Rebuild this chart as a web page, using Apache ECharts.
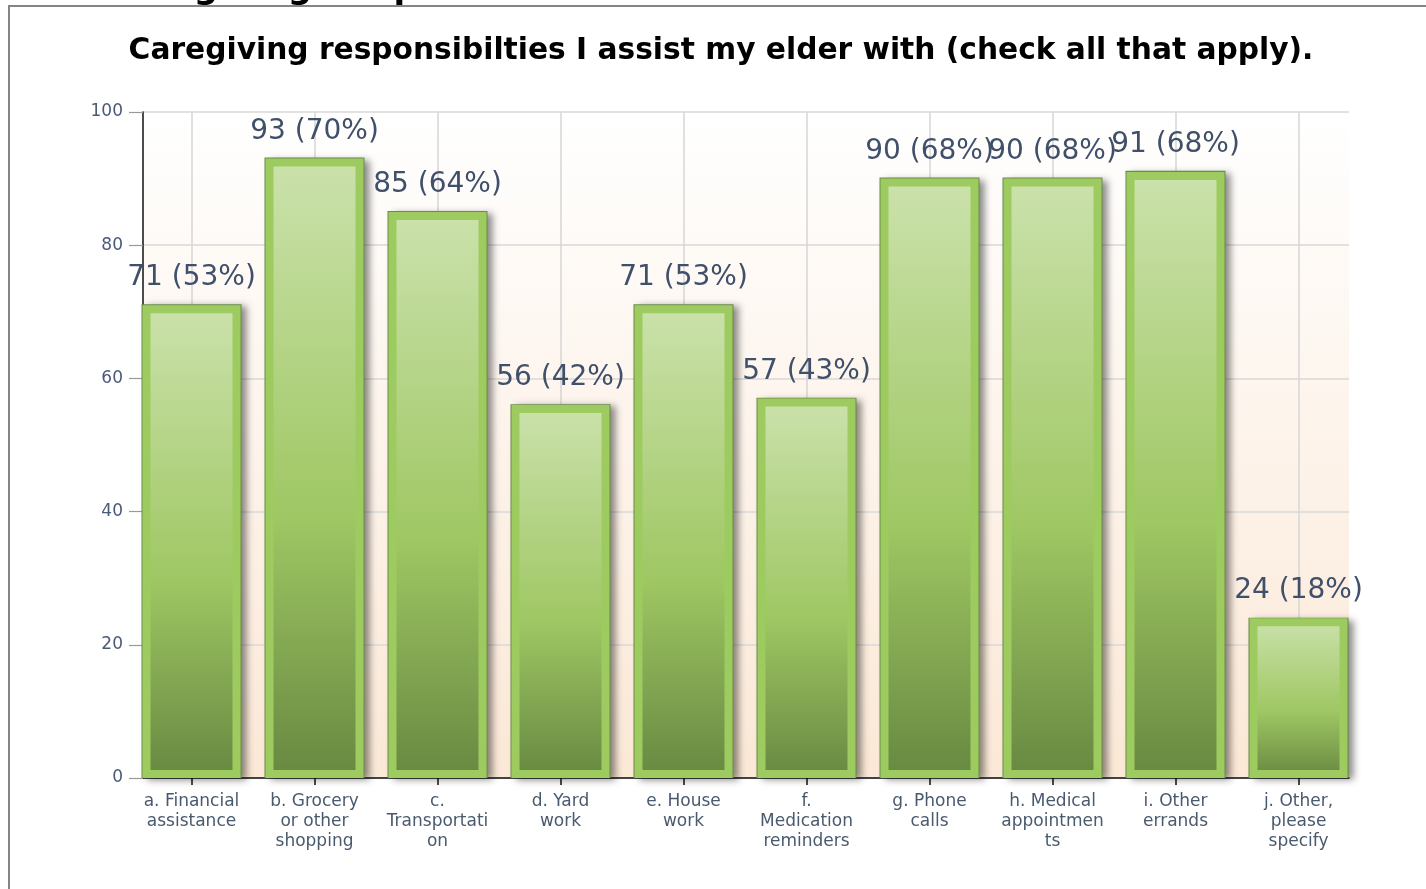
<!DOCTYPE html>
<html>
<head>
<meta charset="utf-8">
<script src="https://cdn.jsdelivr.net/npm/echarts@6/dist/echarts.min.js"></script>
<style>
html,body{margin:0;padding:0;background:#fff;}
#chart{width:1426px;height:889px;}
</style>
</head>
<body>
<div id="chart"></div>
<script>
const titleText = 'Caregiving responsibilties I assist my elder with (check all that apply).';
const headingText = 'Caregiving Responsibilities';
const categories = ['a. Financial\nassistance', 'b. Grocery\nor other\nshopping', 'c.\nTransportati\non', 'd. Yard\nwork', 'e. House\nwork', 'f.\nMedication\nreminders', 'g. Phone\ncalls', 'h. Medical\nappointmen\nts', 'i. Other\nerrands', 'j. Other,\nplease\nspecify'];
const counts = [71, 93, 85, 56, 71, 57, 90, 90, 91, 24];
const percents = [53, 70, 64, 42, 53, 43, 68, 68, 68, 18];
const yMin = 0, yMax = 100, yInterval = 20;

const FONT = '"DejaVu Sans", Verdana, sans-serif';
const chart = echarts.init(document.getElementById('chart'), null, {renderer: 'canvas'});

const option = {
  animation: false,
  backgroundColor: '#ffffff',
  graphic: [
    {type: 'rect', z: 100, silent: true, shape: {x: 9, y: 6, width: 1440, height: 900},
      style: {fill: 'none', stroke: '#858585', lineWidth: 2}},
    {type: 'text', z: 99, silent: true,
      style: {text: headingText, x: 106, y: 6, textAlign: 'left', textVerticalAlign: 'bottom',
        fontSize: 34, fontWeight: 'bold', fontFamily: FONT, fill: '#000'}},
    {type: 'text', z: 100, silent: true,
      style: {text: titleText, x: 721, y: 51, textAlign: 'center', textVerticalAlign: 'middle',
        fontSize: 29.7, fontWeight: 'bold', fontFamily: FONT, fill: '#000'}}
  ],
  grid: [
    {left: 143, right: 77, top: 112, bottom: 111, show: true, borderWidth: 0,
      backgroundColor: new echarts.graphic.LinearGradient(0, 0, 0, 1, [
        {offset: 0, color: '#ffffff'},
        {offset: 1, color: '#fbe8d6'}
      ])},
    {left: 191.5, right: 127.5, top: 112, bottom: 111},
    {left: 191.5, right: 127.5, top: 110.8, bottom: 111}
  ],
  xAxis: [
    {gridIndex: 0, type: 'value', min: 0, max: 1,
      axisLine: {show: true, onZero: false, lineStyle: {color: '#111', width: 1.5}},
      axisTick: {show: false}, axisLabel: {show: false}, splitLine: {show: false}},
    {gridIndex: 1, type: 'category', data: categories, boundaryGap: false,
      axisLine: {show: false},
      axisTick: {show: true, length: 7, lineStyle: {color: '#111', width: 1.5}},
      axisLabel: {interval: 0, margin: 14, fontFamily: FONT, fontSize: 17, lineHeight: 20, color: '#4a5a6e'},
      splitLine: {show: true, lineStyle: {color: '#d6d6d6', width: 1.5}}},
    {gridIndex: 2, type: 'category', data: categories, boundaryGap: false, show: false}
  ],
  yAxis: [
    {gridIndex: 0, type: 'value', min: yMin, max: yMax, interval: yInterval,
      axisLine: {show: true, lineStyle: {color: '#111', width: 1.5}},
      axisTick: {show: true, length: 14, lineStyle: {color: '#9a9a9a', width: 1.2}},
      axisLabel: {margin: 20, fontFamily: FONT, fontSize: 17, color: '#4b5a78'},
      splitLine: {show: true, lineStyle: {color: '#d9d9d9', width: 1.5}}},
    {gridIndex: 1, type: 'value', min: yMin, max: yMax, show: false},
    {gridIndex: 2, type: 'value', min: yMin, max: yMax, show: false}
  ],
  series: [
    {
      // dark rim + drop shadow behind each bar
      type: 'bar', xAxisIndex: 2, yAxisIndex: 2, z: 2,
      data: counts, barWidth: 100, clip: false, silent: true,
      itemStyle: {
        color: '#6b8c48',
        shadowColor: 'rgba(0,0,0,0.45)', shadowBlur: 7, shadowOffsetX: 5, shadowOffsetY: 2
      }
    },
    {
      type: 'bar', xAxisIndex: 1, yAxisIndex: 1, z: 3,
      data: counts, barWidth: 98, clip: false,
      itemStyle: {
        color: new echarts.graphic.LinearGradient(0, 0, 0, 1, [
          {offset: 0, color: '#cbe2ac'},
          {offset: 0.58, color: '#9fc763'},
          {offset: 1, color: '#678841'}
        ]),
        borderColor: '#9dcb60',
        borderWidth: 8
      },
      label: {
        show: true, position: 'top', distance: 13,
        formatter: p => counts[p.dataIndex] + ' (' + percents[p.dataIndex] + '%)',
        fontFamily: FONT, fontSize: 28, color: '#40506a'
      }
    }
  ]
};
chart.setOption(option);
</script>
</body>
</html>
